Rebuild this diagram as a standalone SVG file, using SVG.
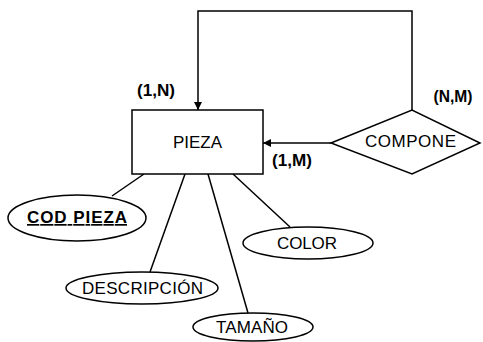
<svg xmlns="http://www.w3.org/2000/svg" width="483" height="342" viewBox="0 0 483 342">
<style>
.s{fill:#fff;stroke:#000;stroke-width:1.5}
.l{fill:none;stroke:#000;stroke-width:1.5}
.t{font-family:"Liberation Sans",Arial,sans-serif;font-size:17px;fill:#000;text-anchor:middle}
.b{font-weight:bold}
</style>
<defs>
<marker id="ah" viewBox="0 0 10 10" refX="10" refY="5" markerWidth="8" markerHeight="8" markerUnits="userSpaceOnUse" orient="auto">
<path d="M0,0 L10,5 L0,10 z" fill="#000"/>
</marker>
</defs>
<g id="connectors">
<polyline class="l" points="412,110 412,11 198,11 198,110" marker-end="url(#ah)"/>
<line class="l" x1="331" y1="143" x2="263" y2="143" marker-end="url(#ah)"/>
<line class="l" x1="144" y1="174" x2="112" y2="196"/>
<line class="l" x1="185" y1="174" x2="150" y2="272"/>
<line class="l" x1="208" y1="174" x2="248" y2="313"/>
<line class="l" x1="233" y1="174" x2="290" y2="227"/>
<text class="t b" x="156" y="96" textLength="38" lengthAdjust="spacingAndGlyphs">(1,N)</text>
<text class="t b" x="292" y="166" textLength="40" lengthAdjust="spacingAndGlyphs">(1,M)</text>
<text class="t b" x="453" y="102" textLength="39" lengthAdjust="spacingAndGlyphs">(N,M)</text>
</g>
<g id="pieza">
<rect class="s" x="132" y="110" width="131" height="64"/>
<text class="t" x="197.5" y="148" textLength="49" lengthAdjust="spacing">PIEZA</text>
</g>
<g id="compone">
<polygon class="s" points="331,143 412,110 480,143 412,174"/>
<text class="t" x="410.5" y="147" textLength="91" lengthAdjust="spacing">COMPONE</text>
</g>
<g id="cod_pieza">
<ellipse class="s" cx="77" cy="218" rx="69" ry="23"/>
<text class="t b" x="77" y="223" textLength="100" lengthAdjust="spacing" text-decoration="underline">COD  PIEZA</text>
</g>
<g id="descripcion">
<ellipse class="s" cx="142" cy="288" rx="76" ry="16"/>
<text class="t" x="142.5" y="294" textLength="121" lengthAdjust="spacing">DESCRIPCIÓN</text>
</g>
<g id="color">
<ellipse class="s" cx="308" cy="243" rx="65" ry="16"/>
<text class="t" x="307" y="249" textLength="60" lengthAdjust="spacing">COLOR</text>
</g>
<g id="tamano">
<ellipse class="s" cx="253" cy="327" rx="60" ry="14"/>
<text class="t" x="252" y="333" textLength="72" lengthAdjust="spacing">TAMAÑO</text>
</g>
</svg>
